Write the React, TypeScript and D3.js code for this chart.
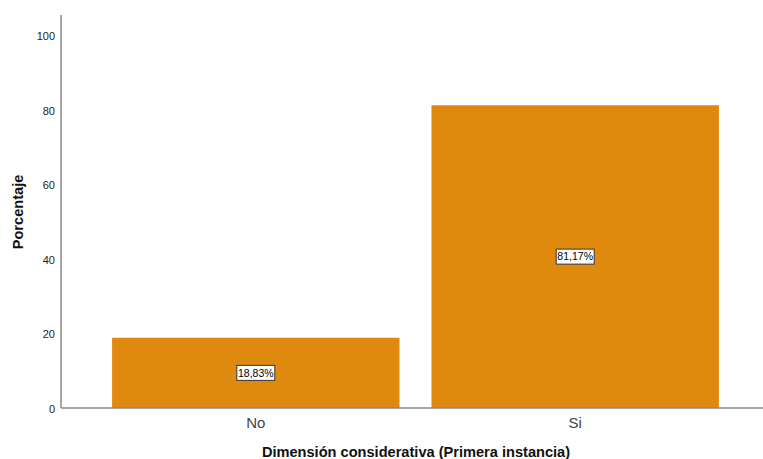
import React from "react";
import * as d3 from "d3";

const categories = ["No", "Si"];
const values = [18.83, 81.17];
const labels = ["18,83%", "81,17%"];
const yTicks = [0, 20, 40, 60, 80, 100];

export default function App() {
  const W = 763, H = 459;
  const x0 = 61, yBase = 408;
  const y = d3.scaleLinear().domain([0, 100]).range([yBase, 35]);
  const x = d3.scaleBand<string>().domain(categories).range([61, 770]).paddingInner(0.1).paddingOuter(0.16);
  const font = "Arial, 'Liberation Sans', sans-serif";
  return (
    <svg width={W} height={H} style={{ position: "absolute", left: 0, top: 0, background: "#fff" }} fontFamily={font}>
      {categories.map((c, i) => (
        <rect key={c} x={x(c)!} y={y(values[i])} width={x.bandwidth()} height={yBase - y(values[i])} fill="#E0890F" />
      ))}
      <line x1={x0} x2={x0} y1={15} y2={yBase} stroke="#888" strokeWidth={1.5} />
      <line x1={x0} x2={W} y1={yBase} y2={yBase} stroke="#888" strokeWidth={1.5} />
      {yTicks.map((t) => (
        <text key={t} x={55} y={y(t)} dy="0.45em" textAnchor="end" fontSize={11} fill="#222">{t}</text>
      ))}
      {categories.map((c) => (
        <text key={c} x={x(c)! + x.bandwidth() / 2} y={428} textAnchor="middle" fontSize={15} fill="#444">{c}</text>
      ))}
      {categories.map((c, i) => {
        const cx = x(c)! + x.bandwidth() / 2;
        const cy = y(values[i] / 2);
        const w = 38, h = 15;
        return (
          <g key={c}>
            <rect x={cx - w / 2} y={cy - h / 2} width={w} height={h} fill="#fff" stroke="#333" strokeWidth={1} />
            <text x={cx} y={cy} dy="0.35em" textAnchor="middle" fontSize={10.5} fill="#000">{labels[i]}</text>
          </g>
        );
      })}
      <text x={416} y={457} textAnchor="middle" fontSize={14.6} fontWeight="bold" fill="#111">Dimensión considerativa (Primera instancia)</text>
      <text transform={`translate(23,212) rotate(-90)`} textAnchor="middle" fontSize={14.6} fontWeight="bold" fill="#111">Porcentaje</text>
    </svg>
  );
}
